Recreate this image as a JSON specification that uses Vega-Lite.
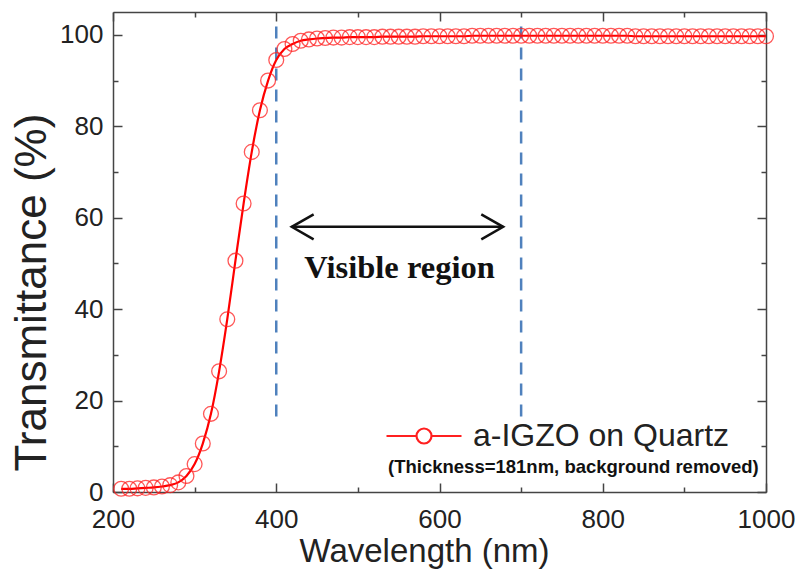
{
  "$schema": "https://vega.github.io/schema/vega-lite/v6.json",
  "width": 653,
  "height": 480,
  "autosize": "none",
  "padding": {"left": 113, "top": 12, "right": 33, "bottom": 92},
  "background": "white",
  "config": {
    "view": {"stroke": null},
    "font": "Liberation Sans",
    "axis": {
      "grid": false,
      "domainColor": "#444444",
      "domainWidth": 1.5,
      "tickColor": "#444444",
      "tickWidth": 1.5,
      "labelColor": "#222222",
      "titleColor": "#222222",
      "titleFontWeight": "normal",
      "labelFont": "Liberation Sans",
      "titleFont": "Liberation Sans",
      "labelFlush": false
    }
  },
  "datasets": {
    "series": [
      {"w": 210, "t": 0.7, "s": "a-IGZO on Quartz"},
      {"w": 220, "t": 0.7, "s": "a-IGZO on Quartz"},
      {"w": 230, "t": 0.8, "s": "a-IGZO on Quartz"},
      {"w": 240, "t": 0.9, "s": "a-IGZO on Quartz"},
      {"w": 250, "t": 1.0, "s": "a-IGZO on Quartz"},
      {"w": 260, "t": 1.2, "s": "a-IGZO on Quartz"},
      {"w": 270, "t": 1.5, "s": "a-IGZO on Quartz"},
      {"w": 280, "t": 2.1, "s": "a-IGZO on Quartz"},
      {"w": 290, "t": 3.5, "s": "a-IGZO on Quartz"},
      {"w": 300, "t": 6.1, "s": "a-IGZO on Quartz"},
      {"w": 310, "t": 10.6, "s": "a-IGZO on Quartz"},
      {"w": 320, "t": 17.1, "s": "a-IGZO on Quartz"},
      {"w": 330, "t": 26.4, "s": "a-IGZO on Quartz"},
      {"w": 340, "t": 37.8, "s": "a-IGZO on Quartz"},
      {"w": 350, "t": 50.6, "s": "a-IGZO on Quartz"},
      {"w": 360, "t": 63.1, "s": "a-IGZO on Quartz"},
      {"w": 370, "t": 74.4, "s": "a-IGZO on Quartz"},
      {"w": 380, "t": 83.5, "s": "a-IGZO on Quartz"},
      {"w": 390, "t": 90.0, "s": "a-IGZO on Quartz"},
      {"w": 400, "t": 94.5, "s": "a-IGZO on Quartz"},
      {"w": 410, "t": 96.9, "s": "a-IGZO on Quartz"},
      {"w": 420, "t": 98.0, "s": "a-IGZO on Quartz"},
      {"w": 430, "t": 98.7, "s": "a-IGZO on Quartz"},
      {"w": 440, "t": 99.0, "s": "a-IGZO on Quartz"},
      {"w": 450, "t": 99.2, "s": "a-IGZO on Quartz"},
      {"w": 460, "t": 99.3, "s": "a-IGZO on Quartz"},
      {"w": 470, "t": 99.4, "s": "a-IGZO on Quartz"},
      {"w": 480, "t": 99.4, "s": "a-IGZO on Quartz"},
      {"w": 490, "t": 99.5, "s": "a-IGZO on Quartz"},
      {"w": 500, "t": 99.5, "s": "a-IGZO on Quartz"},
      {"w": 510, "t": 99.5, "s": "a-IGZO on Quartz"},
      {"w": 520, "t": 99.5, "s": "a-IGZO on Quartz"},
      {"w": 530, "t": 99.6, "s": "a-IGZO on Quartz"},
      {"w": 540, "t": 99.6, "s": "a-IGZO on Quartz"},
      {"w": 550, "t": 99.6, "s": "a-IGZO on Quartz"},
      {"w": 560, "t": 99.6, "s": "a-IGZO on Quartz"},
      {"w": 570, "t": 99.6, "s": "a-IGZO on Quartz"},
      {"w": 580, "t": 99.7, "s": "a-IGZO on Quartz"},
      {"w": 590, "t": 99.7, "s": "a-IGZO on Quartz"},
      {"w": 600, "t": 99.7, "s": "a-IGZO on Quartz"},
      {"w": 610, "t": 99.7, "s": "a-IGZO on Quartz"},
      {"w": 620, "t": 99.7, "s": "a-IGZO on Quartz"},
      {"w": 630, "t": 99.7, "s": "a-IGZO on Quartz"},
      {"w": 640, "t": 99.8, "s": "a-IGZO on Quartz"},
      {"w": 650, "t": 99.8, "s": "a-IGZO on Quartz"},
      {"w": 660, "t": 99.8, "s": "a-IGZO on Quartz"},
      {"w": 670, "t": 99.8, "s": "a-IGZO on Quartz"},
      {"w": 680, "t": 99.8, "s": "a-IGZO on Quartz"},
      {"w": 690, "t": 99.8, "s": "a-IGZO on Quartz"},
      {"w": 700, "t": 99.8, "s": "a-IGZO on Quartz"},
      {"w": 710, "t": 99.8, "s": "a-IGZO on Quartz"},
      {"w": 720, "t": 99.8, "s": "a-IGZO on Quartz"},
      {"w": 730, "t": 99.8, "s": "a-IGZO on Quartz"},
      {"w": 740, "t": 99.8, "s": "a-IGZO on Quartz"},
      {"w": 750, "t": 99.8, "s": "a-IGZO on Quartz"},
      {"w": 760, "t": 99.8, "s": "a-IGZO on Quartz"},
      {"w": 770, "t": 99.8, "s": "a-IGZO on Quartz"},
      {"w": 780, "t": 99.8, "s": "a-IGZO on Quartz"},
      {"w": 790, "t": 99.8, "s": "a-IGZO on Quartz"},
      {"w": 800, "t": 99.8, "s": "a-IGZO on Quartz"},
      {"w": 810, "t": 99.8, "s": "a-IGZO on Quartz"},
      {"w": 820, "t": 99.8, "s": "a-IGZO on Quartz"},
      {"w": 830, "t": 99.8, "s": "a-IGZO on Quartz"},
      {"w": 840, "t": 99.7, "s": "a-IGZO on Quartz"},
      {"w": 850, "t": 99.7, "s": "a-IGZO on Quartz"},
      {"w": 860, "t": 99.7, "s": "a-IGZO on Quartz"},
      {"w": 870, "t": 99.7, "s": "a-IGZO on Quartz"},
      {"w": 880, "t": 99.7, "s": "a-IGZO on Quartz"},
      {"w": 890, "t": 99.7, "s": "a-IGZO on Quartz"},
      {"w": 900, "t": 99.7, "s": "a-IGZO on Quartz"},
      {"w": 910, "t": 99.7, "s": "a-IGZO on Quartz"},
      {"w": 920, "t": 99.7, "s": "a-IGZO on Quartz"},
      {"w": 930, "t": 99.7, "s": "a-IGZO on Quartz"},
      {"w": 940, "t": 99.7, "s": "a-IGZO on Quartz"},
      {"w": 950, "t": 99.7, "s": "a-IGZO on Quartz"},
      {"w": 960, "t": 99.7, "s": "a-IGZO on Quartz"},
      {"w": 970, "t": 99.7, "s": "a-IGZO on Quartz"},
      {"w": 980, "t": 99.7, "s": "a-IGZO on Quartz"},
      {"w": 990, "t": 99.7, "s": "a-IGZO on Quartz"},
      {"w": 1000, "t": 99.7, "s": "a-IGZO on Quartz"}
    ],
    "guides": [
      {"w": 400, "y1": 16.5, "y2": 102.5},
      {"w": 700, "y1": 16.5, "y2": 102.5}
    ],
    "arrow": [
      {"x1": 419, "x2": 678, "y": 58}
    ],
    "heads": [
      {"w": 419, "y": 58, "side": "L"},
      {"w": 678, "y": 58, "side": "R"}
    ],
    "labels": [
      {"w": 551, "y": 46.8, "text": "Visible region", "kind": "vis"},
      {"w": 764, "y": 5.4, "text": "(Thickness=181nm, background removed)", "kind": "sub"}
    ]
  },
  "layer": [
    {
      "data": {"name": "guides"},
      "mark": {"type": "rule", "color": "#4f81bd", "strokeWidth": 2.5, "strokeDash": [12, 9]},
      "encoding": {
        "x": {
          "field": "w", "type": "quantitative",
          "scale": {"domain": [200, 1000], "nice": false, "zero": false},
          "axis": {
            "orient": "bottom",
            "values": [200, 400, 600, 800, 1000],
            "format": "d",
            "tickSize": -9,
            "labelPadding": 23,
            "labelFontSize": 26,
            "title": "Wavelength (nm)",
            "titleFontSize": 33,
            "titlePadding": 3,
            "titleX": 311
          }
        },
        "y": {
          "field": "y1", "type": "quantitative",
          "scale": {"domain": [0, 105], "nice": false},
          "axis": {
            "orient": "left",
            "values": [0, 20, 40, 60, 80, 100],
            "tickSize": -9,
            "labelPadding": 19,
            "labelFontSize": 26,
            "title": "Transmittance (%)",
            "titleFontSize": 44,
            "titlePadding": 5,
            "titleY": 280
          }
        },
        "y2": {"field": "y2"}
      }
    },
    {
      "data": {"name": "guides"},
      "mark": {"type": "rule", "opacity": 0},
      "encoding": {
        "x": {
          "field": "w", "type": "quantitative",
          "axis": {
            "orient": "top",
            "values": [200, 400, 600, 800, 1000],
            "labels": false,
            "title": null,
            "tickSize": -9
          }
        },
        "y": {
          "field": "y1", "type": "quantitative",
          "axis": {
            "orient": "right",
            "values": [0, 20, 40, 60, 80, 100],
            "labels": false,
            "title": null,
            "tickSize": -9
          }
        }
      }
    },
    {
      "data": {"name": "series"},
      "mark": {"type": "line", "color": "#ff0000", "strokeWidth": 2.2, "interpolate": "monotone"},
      "encoding": {
        "x": {
          "field": "w", "type": "quantitative",
          "axis": {"orient": "bottom", "values": [300, 500, 700, 900], "labels": false, "title": null, "domain": false, "tickSize": -5}
        },
        "y": {
          "field": "t", "type": "quantitative",
          "axis": {"orient": "left", "values": [10, 30, 50, 70, 90], "labels": false, "title": null, "domain": false, "tickSize": -5}
        }
      }
    },
    {
      "data": {"name": "series"},
      "mark": {"type": "point", "shape": "circle", "filled": false, "size": 220, "strokeWidth": 1.3, "opacity": 0.75},
      "encoding": {
        "x": {
          "field": "w", "type": "quantitative",
          "axis": {"orient": "top", "values": [300, 500, 700, 900], "labels": false, "title": null, "domain": false, "tickSize": -5}
        },
        "y": {
          "field": "t", "type": "quantitative",
          "axis": {"orient": "right", "values": [10, 30, 50, 70, 90], "labels": false, "title": null, "domain": false, "tickSize": -5}
        },
        "color": {
          "field": "s", "type": "nominal",
          "scale": {"range": ["#ff2020"]},
          "legend": {
            "orient": "none",
            "legendX": 272,
            "legendY": 385,
            "title": null,
            "padding": 0,
            "symbolType": "M-1,0 L-0.2,0 M0.2,0 L1,0 M-0.2,0 A0.2,0.2 0 1,1 0.2,0 A0.2,0.2 0 1,1 -0.2,0",
            "symbolSize": 5625,
            "symbolStrokeWidth": 2.2,
            "symbolStrokeColor": "#ff0000",
            "symbolOpacity": 1,
            "labelFontSize": 32,
            "labelFont": "Liberation Sans",
            "labelColor": "#222222",
            "labelLimit": 500,
            "labelOffset": 10
          }
        }
      }
    },
    {
      "data": {"name": "arrow"},
      "mark": {"type": "rule", "color": "#111111", "strokeWidth": 2.5},
      "encoding": {
        "x": {"field": "x1", "type": "quantitative", "axis": null},
        "x2": {"field": "x2"},
        "y": {"field": "y", "type": "quantitative", "axis": null}
      }
    },
    {
      "data": {"name": "heads"},
      "mark": {"type": "point", "filled": false, "size": 625, "strokeWidth": 2.5, "color": "#111111", "opacity": 1},
      "encoding": {
        "x": {"field": "w", "type": "quantitative", "axis": null},
        "y": {"field": "y", "type": "quantitative", "axis": null},
        "shape": {
          "field": "side", "type": "nominal",
          "scale": {"domain": ["L", "R"], "range": ["M1.75,-1 L0,0 L1.75,1", "M-1.75,-1 L0,0 L-1.75,1"]},
          "legend": null
        }
      }
    },
    {
      "data": {"name": "labels"},
      "transform": [{"filter": "datum.kind === 'vis'"}],
      "mark": {"type": "text", "font": "Liberation Serif", "fontWeight": "bold", "fontSize": 32.5, "align": "center", "baseline": "alphabetic", "color": "#111111"},
      "encoding": {
        "x": {"field": "w", "type": "quantitative", "axis": null},
        "y": {"field": "y", "type": "quantitative", "axis": null},
        "text": {"field": "text"}
      }
    },
    {
      "data": {"name": "labels"},
      "transform": [{"filter": "datum.kind === 'sub'"}],
      "mark": {"type": "text", "font": "Liberation Sans", "fontWeight": "bold", "fontSize": 18.5, "align": "center", "baseline": "middle", "color": "#111111"},
      "encoding": {
        "x": {"field": "w", "type": "quantitative", "axis": null},
        "y": {"field": "y", "type": "quantitative", "axis": null},
        "text": {"field": "text"}
      }
    }
  ],
  "resolve": {"axis": {"x": "independent", "y": "independent"}}
}
